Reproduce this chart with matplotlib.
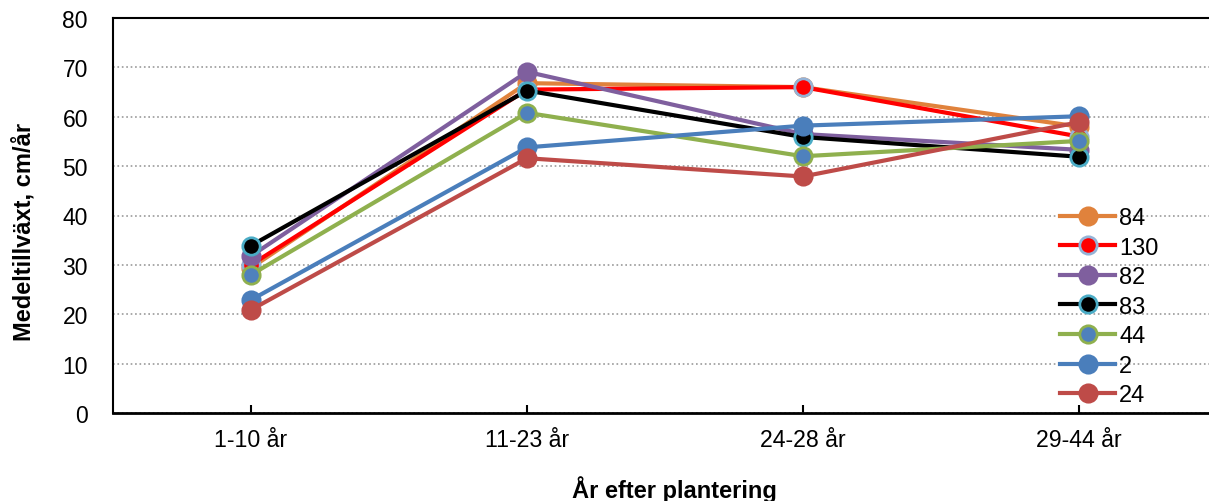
import matplotlib.pyplot as plt

plt.rcParams['font.family'] = ['Liberation Sans', 'DejaVu Sans']

# Data
categories = ['1-10 år', '11-23 år', '24-28 år', '29-44 år']
series_names = ['84', '130', '82', '83', '44', '2', '24']
values = {
    '84':  [29.4, 66.8, 66.0, 58.0],
    '130': [30.0, 65.5, 66.0, 56.0],
    '82':  [31.8, 69.1, 56.5, 53.3],
    '83':  [33.9, 65.3, 55.9, 51.9],
    '44':  [28.0, 60.8, 52.0, 55.1],
    '2':   [22.9, 53.8, 58.2, 60.1],
    '24':  [20.9, 51.6, 47.9, 58.9],
}

# line colour, marker face, marker edge
styles = {
    '84':  ('#E0823C', '#E0823C', '#E0823C'),
    '130': ('#FF0000', '#FF0000', '#95B3D7'),
    '82':  ('#7F5F9E', '#7F5F9E', '#7F5F9E'),
    '83':  ('#000000', '#000000', '#4BACC6'),
    '44':  ('#8FB04E', '#4F81BD', '#8FB04E'),
    '2':   ('#4A7EBB', '#4A7EBB', '#4A7EBB'),
    '24':  ('#BE4B48', '#BE4B48', '#BE4B48'),
}

fig = plt.figure(figsize=(12.09, 5.02), dpi=100)
ax = fig.add_axes([113 / 1209, 88 / 502, 1104 / 1209, 395 / 502])

x = range(len(categories))
for name in series_names:
    lc, fc, ec = styles[name]
    ax.plot(x, values[name], color=lc, lw=3, marker='o', ms=12.5,
            markerfacecolor=fc, markeredgecolor=ec, markeredgewidth=2,
            label=name, clip_on=False)

ax.set_xlim(-0.5, 3.5)
ax.set_ylim(0, 80)
ax.set_yticks(range(0, 81, 10))
ax.set_xticks(list(x))
ax.set_xticklabels(categories)
ax.tick_params(axis='x', direction='in', length=6, width=1.5, labelsize=16.7, pad=11)
ax.tick_params(axis='y', length=0, labelsize=16.5, pad=18)

ax.yaxis.grid(True, linestyle=':', color='#999999', linewidth=1.2)
ax.set_axisbelow(True)

ax.spines['right'].set_visible(False)
ax.spines['left'].set_linewidth(1.5)
ax.spines['bottom'].set_linewidth(2)
ax.spines['top'].set_linewidth(1.5)

fig.text(24 / 1209, 1 - 232 / 502, 'Medeltillväxt, cm/år', rotation=90,
         fontsize=17, fontweight='bold', ha='center', va='center')
fig.text(674 / 1209, 1 - 490 / 502, 'År efter plantering',
         fontsize=17, fontweight='bold', ha='center', va='center')

ax.legend(loc='upper left', bbox_to_anchor=(1060 / 1209, 1 - 208 / 502),
          bbox_transform=fig.transFigure, frameon=False, fontsize=17,
          handlelength=2.33, labelspacing=0.32, handletextpad=0.17,
          borderpad=0, borderaxespad=0)

fig.savefig('out.png', dpi=100)
